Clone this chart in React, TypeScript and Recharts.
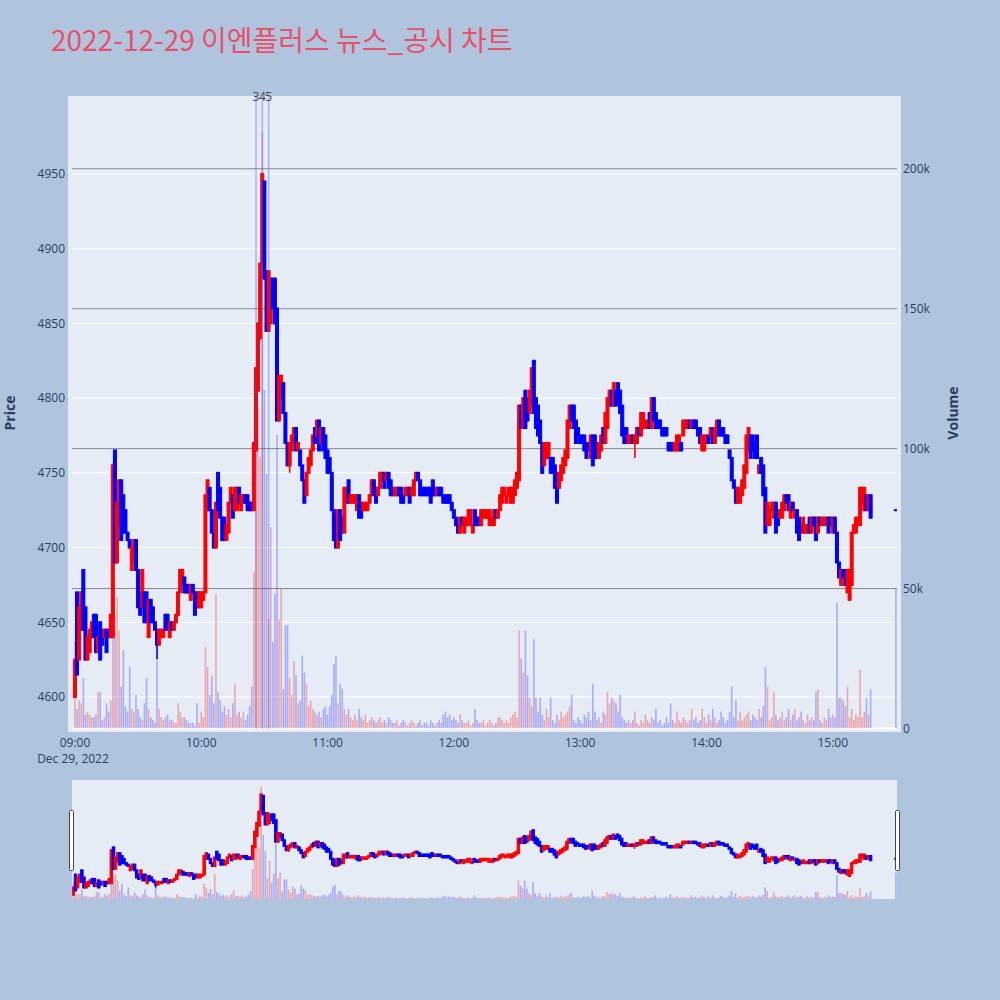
import React from 'react';
import { ComposedChart, Bar, XAxis, YAxis, CartesianGrid, ReferenceLine } from 'recharts';

// minute candles [open, close], one array per trading hour
const h09: [number, number][] = [
  [4600, 4625], [4670, 4615], [4625, 4660], [4645, 4670], [4685, 4645], [4660, 4625], [4625, 4640], [4630, 4645], [4640, 4650], [4655, 4640],
  [4655, 4630], [4630, 4640], [4650, 4625], [4645, 4635], [4640, 4645], [4645, 4630], [4645, 4640], [4640, 4655], [4640, 4755], [4765, 4690],
  [4690, 4730], [4715, 4745], [4745, 4705], [4735, 4710], [4725, 4710], [4710, 4705], [4705, 4700], [4685, 4700], [4690, 4705], [4705, 4685],
  [4685, 4660], [4670, 4655], [4660, 4685], [4670, 4650], [4670, 4650], [4640, 4665], [4665, 4650], [4660, 4650], [4650, 4645], [4645, 4635],
  [4635, 4645], [4640, 4645], [4640, 4645], [4655, 4645], [4655, 4645], [4640, 4650], [4650, 4645], [4645, 4650], [4650, 4655], [4655, 4670],
  [4670, 4685], [4675, 4685], [4680, 4670], [4675, 4670], [4675, 4670], [4665, 4675], [4675, 4670], [4670, 4655], [4670, 4660], [4660, 4670],
];
const h10: [number, number][] = [
  [4660, 4670], [4665, 4670], [4670, 4735], [4725, 4745], [4740, 4725], [4725, 4710], [4710, 4700], [4700, 4730], [4750, 4725], [4740, 4720],
  [4720, 4705], [4720, 4705], [4705, 4715], [4710, 4730], [4730, 4740], [4735, 4720], [4725, 4740], [4725, 4740], [4740, 4730], [4725, 4735],
  [4730, 4735], [4735, 4730], [4735, 4725], [4730, 4725], [4730, 4725], [4725, 4770], [4765, 4820], [4805, 4850], [4840, 4890], [4890, 4950],
  [4945, 4880], [4885, 4845], [4845, 4885], [4850, 4880], [4880, 4860], [4880, 4850], [4860, 4785], [4785, 4815], [4800, 4815], [4810, 4790],
  [4790, 4770], [4770, 4755], [4755, 4770], [4765, 4775], [4770, 4780], [4780, 4765], [4765, 4770], [4765, 4755], [4755, 4745], [4745, 4730],
  [4735, 4750], [4750, 4760], [4755, 4765], [4765, 4775], [4780, 4770], [4775, 4785], [4785, 4765], [4770, 4780], [4780, 4765], [4775, 4760],
];
const h11: [number, number][] = [
  [4765, 4750], [4760, 4750], [4750, 4725], [4725, 4705], [4720, 4700], [4700, 4725], [4725, 4705], [4720, 4710], [4710, 4740], [4730, 4740],
  [4745, 4730], [4730, 4735], [4730, 4735], [4730, 4735], [4725, 4735], [4735, 4720], [4730, 4720], [4725, 4730], [4725, 4730], [4725, 4730],
  [4730, 4735], [4735, 4745], [4745, 4735], [4740, 4730], [4735, 4740], [4740, 4750], [4745, 4750], [4750, 4740], [4745, 4750], [4750, 4740],
  [4745, 4735], [4740, 4735], [4735, 4740], [4735, 4740], [4740, 4735], [4740, 4730], [4735, 4730], [4735, 4740], [4735, 4740], [4740, 4730],
  [4735, 4740], [4735, 4745], [4745, 4750], [4750, 4745], [4745, 4735], [4740, 4735], [4740, 4735], [4740, 4735], [4740, 4735], [4740, 4730],
  [4745, 4735], [4740, 4735], [4735, 4740], [4740, 4735], [4740, 4735], [4735, 4730], [4735, 4730], [4735, 4730], [4735, 4730], [4730, 4725],
];
const h12: [number, number][] = [
  [4725, 4720], [4720, 4715], [4715, 4710], [4710, 4720], [4720, 4715], [4710, 4720], [4715, 4720], [4715, 4725], [4715, 4725], [4710, 4715],
  [4725, 4715], [4720, 4715], [4720, 4715], [4715, 4725], [4720, 4725], [4720, 4725], [4720, 4725], [4715, 4725], [4715, 4720], [4715, 4725],
  [4725, 4720], [4720, 4725], [4725, 4735], [4730, 4740], [4735, 4740], [4730, 4735], [4735, 4740], [4730, 4740], [4730, 4740], [4735, 4745],
  [4740, 4750], [4745, 4795], [4795, 4780], [4780, 4800], [4805, 4780], [4800, 4785], [4790, 4805], [4795, 4820], [4825, 4790], [4800, 4780],
  [4795, 4775], [4785, 4770], [4770, 4750], [4755, 4770], [4760, 4770], [4760, 4770], [4760, 4750], [4760, 4750], [4755, 4740], [4750, 4730],
  [4740, 4750], [4745, 4755], [4750, 4760], [4755, 4765], [4760, 4785], [4780, 4795], [4795, 4785], [4795, 4780], [4785, 4770], [4780, 4775],
];
const h13: [number, number][] = [
  [4775, 4770], [4775, 4770], [4775, 4765], [4770, 4760], [4770, 4765], [4760, 4775], [4775, 4755], [4775, 4760], [4770, 4760], [4760, 4770],
  [4765, 4775], [4780, 4770], [4770, 4790], [4780, 4800], [4795, 4805], [4805, 4795], [4795, 4810], [4805, 4795], [4810, 4800], [4805, 4790],
  [4795, 4775], [4780, 4770], [4780, 4770], [4770, 4775], [4770, 4775], [4775, 4770], [4770, 4775], [4770, 4780], [4780, 4775], [4775, 4790],
  [4780, 4790], [4780, 4785], [4780, 4785], [4790, 4780], [4780, 4800], [4800, 4785], [4790, 4780], [4785, 4780], [4785, 4780], [4780, 4775],
  [4780, 4775], [4780, 4775], [4770, 4765], [4770, 4765], [4770, 4765], [4765, 4770], [4765, 4775], [4765, 4775], [4770, 4765], [4775, 4785],
  [4780, 4785], [4780, 4785], [4785, 4780], [4780, 4785], [4785, 4780], [4785, 4780], [4780, 4775], [4780, 4770], [4765, 4775], [4765, 4775],
];
const h14: [number, number][] = [
  [4770, 4775], [4775, 4770], [4775, 4780], [4780, 4770], [4770, 4780], [4775, 4785], [4785, 4775], [4780, 4775], [4780, 4775], [4775, 4770],
  [4775, 4770], [4765, 4760], [4760, 4745], [4745, 4740], [4740, 4730], [4730, 4740], [4730, 4735], [4735, 4745], [4740, 4755], [4750, 4775],
  [4765, 4780], [4775, 4760], [4775, 4765], [4770, 4760], [4775, 4760], [4750, 4755], [4760, 4750], [4755, 4735], [4740, 4710], [4715, 4730],
  [4715, 4725], [4725, 4730], [4720, 4730], [4730, 4710], [4725, 4715], [4720, 4725], [4720, 4730], [4725, 4735], [4735, 4730], [4735, 4725],
  [4720, 4730], [4730, 4725], [4720, 4725], [4725, 4710], [4720, 4705], [4715, 4710], [4710, 4720], [4710, 4715], [4710, 4715], [4720, 4710],
  [4710, 4720], [4720, 4715], [4720, 4705], [4710, 4720], [4720, 4715], [4715, 4720], [4715, 4720], [4715, 4720], [4720, 4710], [4720, 4715],
];
const h15: [number, number][] = [
  [4710, 4720], [4720, 4710], [4710, 4690], [4690, 4680], [4675, 4685], [4685, 4680], [4685, 4675], [4670, 4685], [4665, 4685], [4675, 4710],
  [4710, 4715], [4710, 4720], [4715, 4720], [4715, 4740], [4730, 4740], [4725, 4740], [4735, 4725], [4725, 4735], [4735, 4720],
];
// 15:30 closing auction [minute, open, close, volume(k)]
const closeAuction = [390, 4725, 4725, 50];

// [minute, high, low] where a wick leaves the body
const wicks: [number, number, number][] = [[39, 4645, 4625], [102, 4770, 4750], [266, 4775, 4760]];

// volume per minute, thousands of shares
const v09 = [31, 7, 10, 9, 18, 5, 6, 5, 4, 4, 5, 13, 13, 3, 4, 9, 6, 10, 95, 41, 47, 35, 15, 28, 8, 6, 22, 7, 6, 12, 7, 4, 3, 9, 18, 7, 4, 3, 2, 24, 7, 4, 3, 4, 5, 3, 3, 2, 2, 9, 6, 4, 4, 3, 2, 2, 2, 1, 9, 2];
const v10 = [6, 4, 29, 22, 12, 19, 9, 48, 13, 10, 6, 8, 5, 7, 4, 9, 16, 5, 6, 4, 6, 3, 5, 8, 15, 56, 103, 115, 97, 213, 121, 91, 39, 72, 31, 48, 105, 39, 50, 14, 37, 37, 18, 12, 24, 19, 9, 10, 26, 20, 16, 8, 10, 7, 6, 5, 6, 4, 7, 8];
const v11 = [5, 8, 12, 23, 26, 9, 16, 14, 7, 5, 7, 4, 3, 5, 3, 7, 4, 3, 5, 2, 3, 4, 3, 2, 3, 4, 2, 3, 2, 4, 3, 2, 2, 3, 1, 2, 3, 2, 1, 2, 3, 2, 1, 2, 3, 1, 2, 2, 1, 3, 2, 1, 2, 3, 2, 5, 6, 4, 5, 3];
const v12 = [4, 3, 2, 5, 3, 2, 2, 3, 1, 2, 7, 3, 2, 2, 3, 1, 2, 3, 2, 1, 2, 4, 4, 3, 2, 3, 2, 4, 5, 6, 4, 35, 25, 20, 35, 19, 11, 8, 32, 11, 6, 11, 5, 3, 7, 4, 11, 3, 2, 5, 3, 6, 4, 5, 6, 8, 12, 3, 2, 4];
const v13 = [3, 2, 5, 4, 6, 3, 16, 6, 3, 4, 2, 6, 5, 13, 9, 11, 10, 9, 6, 12, 4, 3, 2, 3, 2, 3, 6, 2, 1, 3, 2, 5, 3, 2, 4, 3, 7, 2, 3, 1, 2, 4, 2, 9, 3, 2, 6, 3, 2, 4, 3, 2, 3, 7, 3, 4, 2, 3, 7, 4];
const v14 = [2, 5, 3, 7, 4, 2, 3, 6, 4, 2, 3, 6, 15, 4, 10, 3, 6, 3, 4, 5, 6, 3, 5, 4, 3, 7, 4, 8, 22, 15, 3, 4, 13, 5, 3, 4, 6, 3, 4, 7, 3, 5, 7, 3, 4, 6, 3, 2, 5, 3, 4, 3, 13, 14, 3, 2, 4, 3, 7, 4];
const v15 = [5, 4, 45, 11, 11, 10, 8, 15, 4, 7, 3, 5, 4, 21, 4, 6, 11, 5, 14];

const timeTicks = [0, 60, 120, 180, 240, 300, 360];
const timeLabels = ['09:00', '10:00', '11:00', '12:00', '13:00', '14:00', '15:00'];
const priceTicks = [4600, 4650, 4700, 4750, 4800, 4850, 4900, 4950];
const volTicks = [0, 50000, 100000, 150000, 200000];
const volLabels = ['0', '50k', '100k', '150k', '200k'];
const news = [{ t: 86, label: '3' }, { t: 89, label: '4' }, { t: 92, label: '5' }];

const hours = [h09, h10, h11, h12, h13, h14, h15];
const vols = [v09, v10, v11, v12, v13, v14, v15];

const makeRow = (t: number, o: number, c: number, v: number) => {
  const w = wicks.find((k) => k[0] === t);
  const hi = w ? Math.max(w[1], o, c) : Math.max(o, c);
  const lo = w ? Math.min(w[2], o, c) : Math.min(o, c);
  return { t, o, c, hi, lo, range: [lo, hi], vol: v * 1000 };
};

const data = [
  ...hours.flatMap((hour, h) => hour.map(([o, c], i) => makeRow(h * 60 + i, o, c, vols[h][i]))),
  makeRow(closeAuction[0], closeAuction[1], closeAuction[2], closeAuction[3]),
];

const RED = '#ff0000';
const BLUE = '#0000ff';
const FONT = '"Open Sans", verdana, arial, sans-serif';
const INK = '#2a3f5f';

const candleShape = (bodyW: number) => (props: any) => {
  const { x, y, width, height, payload } = props;
  if (x == null || y == null) return null;
  const cx = x + width / 2;
  const top0 = Math.min(y, y + height);
  const h0 = Math.abs(height);
  const { o, c, hi, lo } = payload;
  const color = c > o ? RED : BLUE;
  const span = hi - lo;
  const yOf = (v: number) => (span > 0 ? top0 + ((hi - v) / span) * h0 : top0);
  const bTop = yOf(Math.max(o, c));
  const bBot = yOf(Math.min(o, c));
  return (
    <g>
      <line x1={cx} x2={cx} y1={top0} y2={top0 + h0} stroke={color} strokeWidth={1.6} />
      <rect x={cx - bodyW / 2} y={bTop - 0.5} width={bodyW} height={Math.max(bBot - bTop, 0) + 1} fill={color} stroke={color} strokeWidth={1} />
    </g>
  );
};

const volShape = (props: any) => {
  const { x, y, width, height, payload } = props;
  if (x == null || y == null) return null;
  const cx = x + width / 2;
  const up = payload.c > payload.o;
  return (
    <rect
      x={cx - 0.8}
      y={Math.min(y, y + height)}
      width={1.6}
      height={Math.abs(height)}
      fill={up ? 'rgba(255,0,0,0.3)' : 'rgba(0,0,255,0.27)'}
    />
  );
};

const TimeTick = (props: any) => {
  const { x, y, payload } = props;
  const idx = timeTicks.indexOf(payload.value);
  return (
    <g>
      <text x={x} y={y + 18} textAnchor="middle" fontSize={12} fill={INK} fontFamily={FONT}>
        {timeLabels[idx]}
      </text>
      {idx === 0 && (
        <text x={x - 2} y={y + 34} textAnchor="middle" fontSize={12} fill={INK} fontFamily={FONT}>
          Dec 29, 2022
        </text>
      )}
    </g>
  );
};

const App = () => {
  return (
    <div style={{ position: 'absolute', left: 0, top: 0, width: 1000, height: 1000, background: '#b0c4de', overflow: 'hidden' }}>
      <div style={{ position: 'absolute', left: 68, top: 96, width: 833, height: 636, background: '#e5ecf6' }} />
      <div style={{ position: 'absolute', left: 72, top: 780, width: 825, height: 119, background: '#e5ecf6' }} />

      <div style={{ position: 'absolute', left: 0, top: 0 }}>
        <ComposedChart width={1000} height={770} data={data} margin={{ top: 96, right: 0, bottom: 0, left: 0 }}>
          <XAxis
            xAxisId="t"
            dataKey="t"
            type="number"
            domain={[-1.42, 390.5]}
            allowDataOverflow
            ticks={timeTicks}
            tick={<TimeTick />}
            tickSize={0}
            tickMargin={0}
            axisLine={false}
            tickLine={false}
            height={41.5}
            interval={0}
          />
          <XAxis xAxisId="v" dataKey="t" type="number" domain={[-1.42, 390.5]} allowDataOverflow hide />
          <YAxis
            yAxisId="price"
            orientation="left"
            domain={[4578.9, 5002.2]}
            allowDataOverflow
            ticks={priceTicks}
            width={72}
            tickSize={0}
            tickMargin={7}
            axisLine={false}
            tickLine={false}
            tick={{ fontSize: 12, fill: INK, fontFamily: FONT }}
          />
          <YAxis
            yAxisId="vol"
            orientation="right"
            domain={[0, 226000]}
            allowDataOverflow
            ticks={volTicks}
            tickFormatter={(v: number) => volLabels[volTicks.indexOf(v)]}
            width={103}
            tickSize={0}
            tickMargin={6}
            axisLine={false}
            tickLine={false}
            tick={{ fontSize: 12, fill: INK, fontFamily: FONT }}
          />
          <CartesianGrid xAxisId="t" yAxisId="price" vertical={false} stroke="#ffffff" strokeWidth={1} horizontalValues={priceTicks} />
          {volTicks.slice(1).map((v) => (
            <ReferenceLine key={v} xAxisId="t" yAxisId="vol" y={v} stroke="#8a8a8a" strokeWidth={1} zIndex={-50} />
          ))}
          <ReferenceLine xAxisId="t" yAxisId="vol" y={0} stroke="#ffffff" strokeWidth={2} zIndex={-50} />
          <Bar xAxisId="v" yAxisId="vol" dataKey="vol" barSize={2} shape={volShape} isAnimationActive={false} />
          {news.map((n) => (
            <ReferenceLine
              key={n.label}
              xAxisId="t"
              yAxisId="price"
              x={n.t}
              stroke="rgba(60,80,230,0.35)"
              strokeWidth={1.6}
              label={{ value: n.label, position: 'top', offset: -5, fill: '#444', fontSize: 12, fontFamily: FONT }}
            />
          ))}
          <Bar xAxisId="t" yAxisId="price" dataKey="range" barSize={2} shape={candleShape(3)} isAnimationActive={false} />
        </ComposedChart>
      </div>

      <div style={{ position: 'absolute', left: 72, top: 780 }}>
        <ComposedChart width={825} height={119} data={data} margin={{ top: 0, right: 0, bottom: 0, left: 0 }}>
          <XAxis xAxisId="t" dataKey="t" type="number" domain={[-0.7, 390.5]} allowDataOverflow hide />
          <XAxis xAxisId="v" dataKey="t" type="number" domain={[-0.7, 390.5]} allowDataOverflow hide />
          <YAxis yAxisId="price" domain={[4585, 5000]} allowDataOverflow hide />
          <YAxis yAxisId="vol" orientation="right" domain={[0, 225000]} allowDataOverflow hide />
          <Bar xAxisId="v" yAxisId="vol" dataKey="vol" barSize={2} shape={volShape} isAnimationActive={false} />
          <Bar xAxisId="t" yAxisId="price" dataKey="range" barSize={2} shape={candleShape(2.5)} isAnimationActive={false} />
        </ComposedChart>
      </div>

      <svg width={1000} height={1000} style={{ position: 'absolute', left: 0, top: 0, pointerEvents: 'none' }}>
        <text x={51} y={51} fontSize={28} fill="#e9506a" fontFamily={'"Noto Sans CJK KR", "Open Sans", sans-serif'}>
          2022-12-29 이엔플러스 뉴스_공시 차트
        </text>
        <text x={15} y={413} transform="rotate(-90 15 413)" textAnchor="middle" fontSize={14} fontWeight="bold" fill={INK} fontFamily={FONT}>
          Price
        </text>
        <text x={958} y={413} transform="rotate(-90 958 413)" textAnchor="middle" fontSize={14} fontWeight="bold" fill={INK} fontFamily={FONT}>
          Volume
        </text>
        <rect x={69.5} y={810.5} width={4} height={60} fill="#ffffff" stroke="#444" strokeWidth={1} rx={1} />
        <rect x={895.5} y={810.5} width={4} height={60} fill="#ffffff" stroke="#444" strokeWidth={1} rx={1} />
      </svg>
    </div>
  );
};

export default App;
